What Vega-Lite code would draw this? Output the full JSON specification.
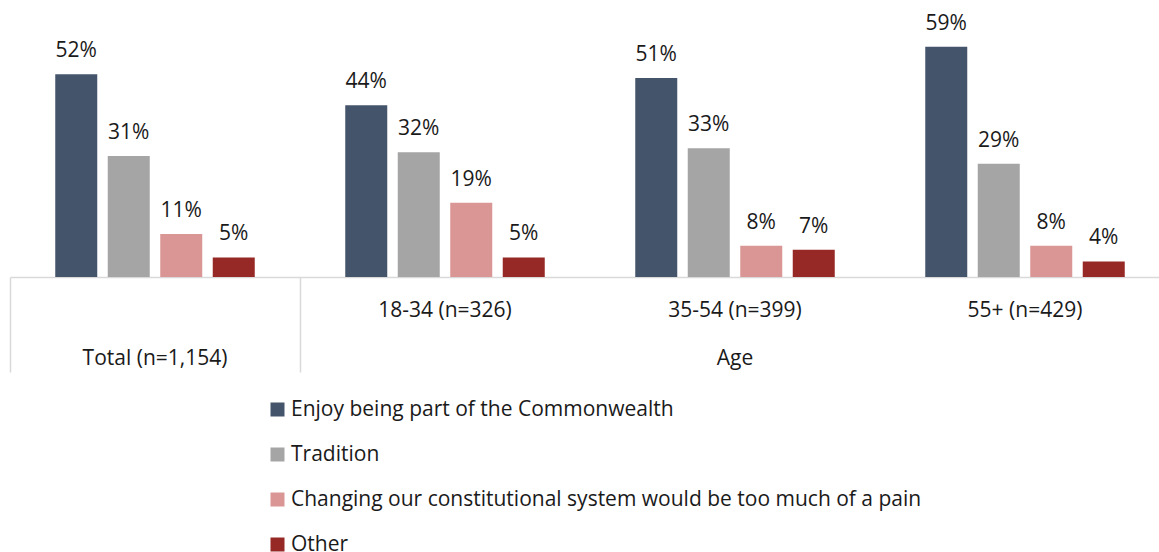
{
  "$schema": "https://vega.github.io/schema/vega-lite/v6.json",
  "autosize": {"type": "none"},
  "width": 1160,
  "height": 277,
  "padding": {"left": 10, "top": 0, "right": 0, "bottom": 275},
  "background": "white",
  "config": {
    "view": {"stroke": null},
    "font": "Open Sans",
    "text": {"font": "Open Sans"}
  },
  "data": {
    "values": [
      {"group": "Total", "series": "Enjoy being part of the Commonwealth", "value": 0.52},
      {"group": "Total", "series": "Tradition", "value": 0.31},
      {"group": "Total", "series": "Changing our constitutional system would be too much of a pain", "value": 0.11},
      {"group": "Total", "series": "Other", "value": 0.05},
      {"group": "18-34", "series": "Enjoy being part of the Commonwealth", "value": 0.44},
      {"group": "18-34", "series": "Tradition", "value": 0.32},
      {"group": "18-34", "series": "Changing our constitutional system would be too much of a pain", "value": 0.19},
      {"group": "18-34", "series": "Other", "value": 0.05},
      {"group": "35-54", "series": "Enjoy being part of the Commonwealth", "value": 0.51},
      {"group": "35-54", "series": "Tradition", "value": 0.33},
      {"group": "35-54", "series": "Changing our constitutional system would be too much of a pain", "value": 0.08},
      {"group": "35-54", "series": "Other", "value": 0.07},
      {"group": "55+", "series": "Enjoy being part of the Commonwealth", "value": 0.59},
      {"group": "55+", "series": "Tradition", "value": 0.29},
      {"group": "55+", "series": "Changing our constitutional system would be too much of a pain", "value": 0.08},
      {"group": "55+", "series": "Other", "value": 0.04}
    ]
  },
  "encoding": {
    "x": {
      "field": "group",
      "type": "nominal",
      "sort": ["Total", "18-34", "35-54", "55+"],
      "scale": {"paddingInner": 0, "paddingOuter": 0},
      "axis": {
        "title": null,
        "labelAngle": 0,
        "labelFont": "Open Sans",
        "labelFontSize": 21,
        "labelColor": "#1a1a1a",
        "labelBaseline": "top",
        "labelPadding": -73,
        "labelLineHeight": 48,
        "labelLimit": 0,
        "labelExpr": "datum.value === 'Total' ? ['', 'Total (n=1,154)'] : datum.value === '18-34' ? '18-34 (n=326)' : datum.value === '35-54' ? ['35-54 (n=399)', 'Age'] : '55+ (n=429)'",
        "domainColor": "#D9D9D9",
        "domainWidth": 1.5,
        "bandPosition": 0,
        "tickSize": 95,
        "tickWidth": 1.5,
        "tickColor": {"condition": {"test": "datum.value === 'Total' || datum.value === '18-34'", "value": "#D9D9D9"}, "value": "transparent"}
      }
    },
    "xOffset": {
      "field": "series",
      "type": "nominal",
      "sort": ["Enjoy being part of the Commonwealth", "Tradition", "Changing our constitutional system would be too much of a pain", "Other"],
      "scale": {"paddingInner": 0.2, "paddingOuter": 0.862}
    },
    "y": {
      "field": "value",
      "type": "quantitative",
      "scale": {"domain": [0, 0.71], "nice": false},
      "axis": null
    }
  },
  "layer": [
    {
      "mark": {"type": "bar"},
      "encoding": {
        "color": {
          "field": "series",
          "type": "nominal",
          "sort": ["Enjoy being part of the Commonwealth", "Tradition", "Changing our constitutional system would be too much of a pain", "Other"],
          "scale": {"range": ["#44546A", "#A5A5A5", "#DA9694", "#962925"]},
          "legend": {
            "title": null,
            "orient": "none",
            "legendX": 257,
            "legendY": 399,
            "direction": "vertical",
            "symbolType": "square",
            "symbolSize": 196,
            "symbolStrokeWidth": 0,
            "labelFont": "Open Sans",
            "labelFontSize": 21,
            "labelColor": "#1a1a1a",
            "labelLimit": 0,
            "labelOffset": 3,
            "rowPadding": 23,
            "padding": 0
          }
        }
      }
    },
    {
      "mark": {"type": "text", "baseline": "alphabetic", "dy": -17, "fontSize": 21, "font": "Open Sans", "color": "#1a1a1a"},
      "encoding": {
        "text": {"field": "value", "type": "quantitative", "format": ".0%"}
      }
    }
  ]
}
